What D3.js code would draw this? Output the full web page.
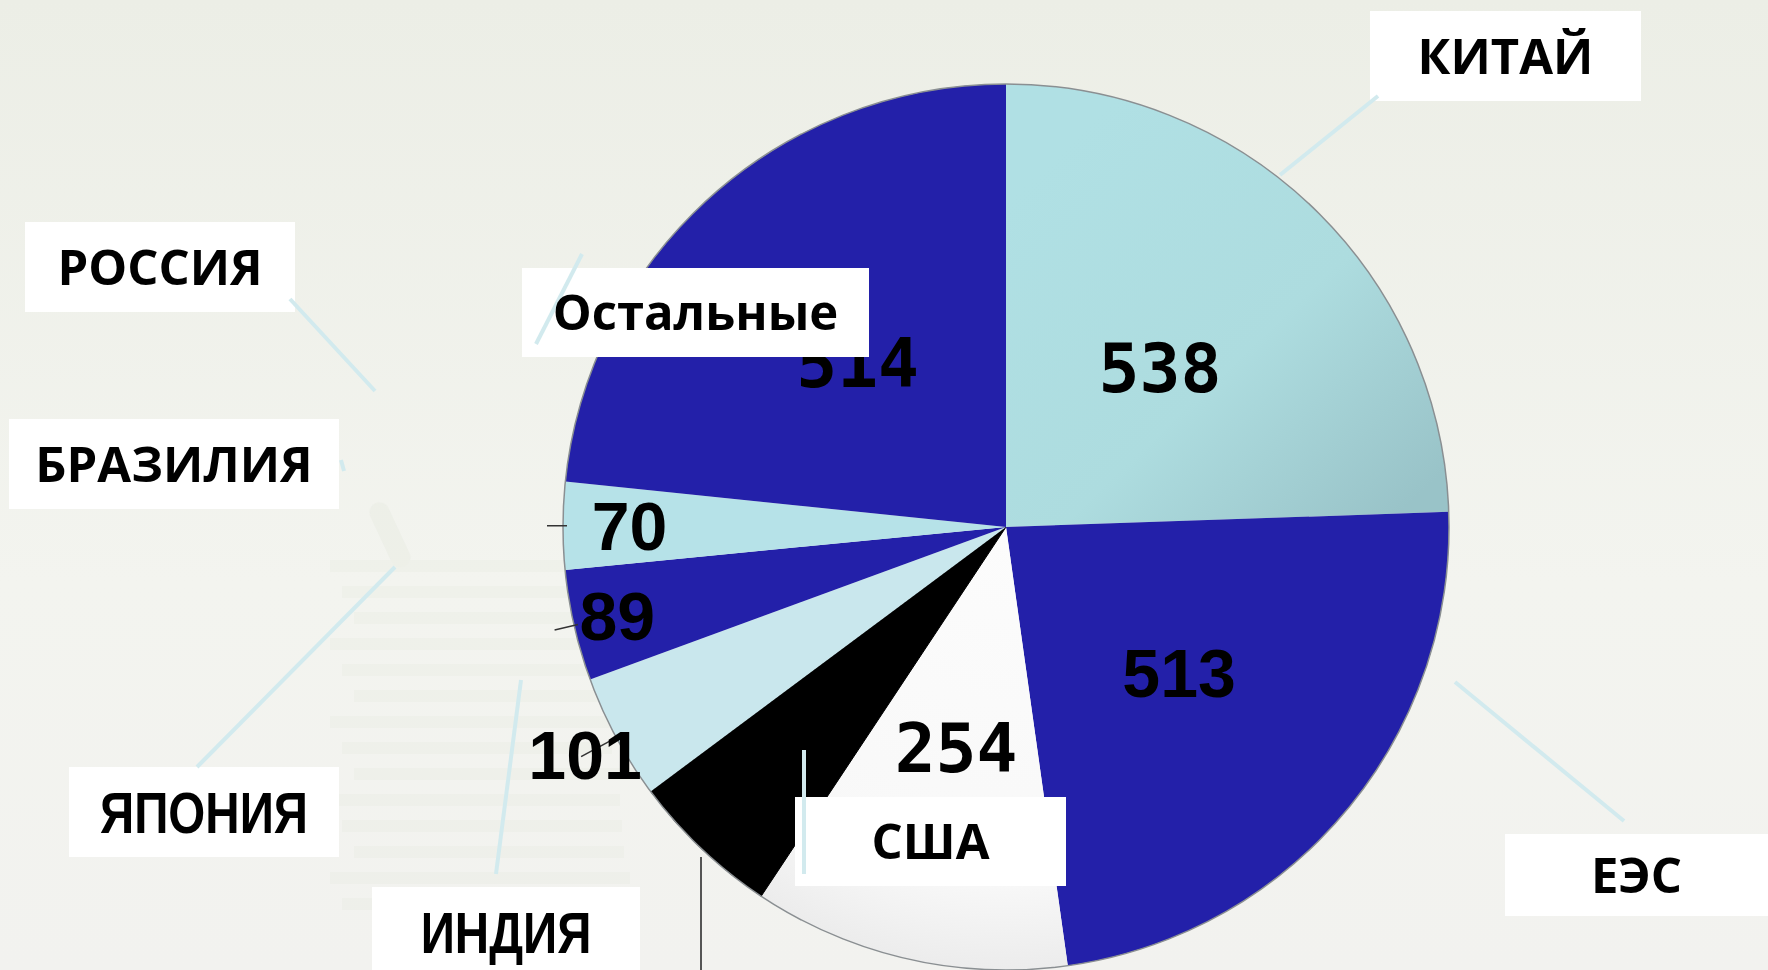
<!DOCTYPE html>
<html>
<head>
<meta charset="utf-8">
<script src="https://cdn.jsdelivr.net/npm/d3@7"></script>
<style>
  html, body { margin: 0; padding: 0; overflow: hidden; }
  svg { display: block; }
  .callout { font-family: 'Open Sans', sans-serif; font-weight: 700; fill: #000; }
  .narrow { font-family: 'Liberation Sans', Arial, sans-serif; font-weight: 700; }
</style>
</head>
<body>
<svg width="1768" height="970"></svg>
<script>
// slices clockwise from 12 o'clock
const countries = ['Китай', 'ЕЭС', 'США', 'Россия', 'Индия', 'Япония', 'Бразилия', 'Остальные'];
const values = [538, 513, 254, 121, 101, 89, 70, 514];
const valueLabels = ['538', '513', '254', '', '101', '89', '70', '514'];
const calloutTexts = ['КИТАЙ', 'ЕЭС', 'США', 'РОССИЯ', 'ИНДИЯ', 'ЯПОНИЯ', 'БРАЗИЛИЯ', 'Остальные'];

const svg = d3.select('svg');
const width = +svg.attr('width');
const height = +svg.attr('height');

const cx = 1006, cy = 527, radius = 443;

const colors = ['url(#gChina)', '#2320a9', 'url(#gWhite)', '#000000', '#c9e7ed', '#2320a9', '#b6e2e8', '#2320a9'];
// how far out the value label sits (fraction of radius) and its font
const labelPos = [0.5, 0.51, 0.51, 0.5, 1.08, 0.9, 0.85, 0.5];
const labelFont = ['mono', 'sans', 'mono', 'sans', 'sans', 'sans', 'sans', 'mono'];

const defs = svg.append('defs');
const bg = defs.append('linearGradient').attr('id', 'gBg')
  .attr('x1', 0).attr('y1', 0).attr('x2', 0).attr('y2', 1);
bg.append('stop').attr('offset', '0%').attr('stop-color', '#eceee6');
bg.append('stop').attr('offset', '60%').attr('stop-color', '#f3f4ef');
bg.append('stop').attr('offset', '100%').attr('stop-color', '#f2f2ef');

// gradients live in the pie group's coordinates (centre at 0,0)
const gc = defs.append('linearGradient').attr('id', 'gChina')
  .attr('gradientUnits', 'userSpaceOnUse')
  .attr('x1', 60).attr('y1', -380).attr('x2', 400).attr('y2', -20);
gc.append('stop').attr('offset', '0%').attr('stop-color', '#b0e0e4');
gc.append('stop').attr('offset', '55%').attr('stop-color', '#addcdf');
gc.append('stop').attr('offset', '100%').attr('stop-color', '#99c3c8');

const gw = defs.append('radialGradient').attr('id', 'gWhite')
  .attr('gradientUnits', 'userSpaceOnUse')
  .attr('cx', 0).attr('cy', 0).attr('r', radius);
gw.append('stop').attr('offset', '0%').attr('stop-color', '#fcfcfc');
gw.append('stop').attr('offset', '80%').attr('stop-color', '#f8f8f8');
gw.append('stop').attr('offset', '100%').attr('stop-color', '#ececec');

svg.append('rect').attr('width', width).attr('height', height).attr('fill', 'url(#gBg)');

// faint stack of papers in the background
const paper = svg.append('g').attr('opacity', 0.12);
d3.range(14).forEach(i => {
  paper.append('rect')
    .attr('x', 330 + (i % 3) * 12).attr('y', 560 + i * 26)
    .attr('width', 300 - (i % 4) * 10).attr('height', 12)
    .attr('fill', '#d6dccb');
});
paper.append('rect').attr('x', 380).attr('y', 500).attr('width', 20).attr('height', 70)
  .attr('rx', 10).attr('fill', '#c8d0bc').attr('transform', 'rotate(-25 390 535)');

const pie = d3.pie().sort(null).value(d => d)(values);
const arc = d3.arc().innerRadius(0).outerRadius(radius);

const g = svg.append('g').attr('transform', `translate(${cx},${cy})`);

g.selectAll('path.slice').data(pie)
  .enter().append('path')
  .attr('class', 'slice')
  .attr('d', arc)
  .attr('fill', (d, i) => colors[i])
  .attr('stroke', (d, i) => i === 3 ? '#000' : 'none');

g.append('circle').attr('r', radius).attr('fill', 'none')
  .attr('stroke', '#8a8f92').attr('stroke-width', 1.5);

// chart leader ticks for the small outer labels
const tick = (i, r0, r1) => {
  const a = (pie[i].startAngle + pie[i].endAngle) / 2;
  g.append('line')
    .attr('x1', Math.sin(a) * r0).attr('y1', -Math.cos(a) * r0)
    .attr('x2', Math.sin(a) * r1).attr('y2', -Math.cos(a) * r1)
    .attr('stroke', '#333').attr('stroke-width', 1.5);
};
tick(6, radius - 4, radius + 16);
tick(5, radius - 4, radius + 20);
tick(4, radius - 10, radius + 40);

// black slice leader going down out of frame
g.append('line')
  .attr('x1', -305).attr('y1', 330).attr('x2', -305).attr('y2', height)
  .attr('stroke', '#555').attr('stroke-width', 2);

g.selectAll('text.val').data(pie)
  .enter().append('text')
  .attr('class', 'val')
  .attr('transform', (d, i) => {
    const a = (d.startAngle + d.endAngle) / 2;
    const r = radius * labelPos[i];
    return `translate(${Math.sin(a) * r},${-Math.cos(a) * r})`;
  })
  .attr('text-anchor', 'middle')
  .attr('dy', '0.36em')
  .attr('font-family', (d, i) => labelFont[i] === 'mono' ? "'DejaVu Sans Mono', monospace" : "'Liberation Sans', Arial, sans-serif")
  .attr('font-weight', 'bold')
  .attr('font-size', 68)
  .attr('fill', '#000')
  .text((d, i) => valueLabels[i]);

// callout boxes: [box x, y, w, h, line x1, y1, x2, y2, narrow font]
const callouts = [
  [1370, 11, 271, 90, 1378, 96, 1280, 175, false],
  [1505, 834, 263, 82, 1624, 821, 1455, 682, false],
  [795, 797, 271, 89, 804, 750, 804, 874, false],
  [25, 222, 270, 90, 290, 299, 375, 391, false],
  [372, 887, 268, 90, 496, 874, 521, 680, true],
  [69, 767, 270, 90, 197, 767, 395, 567, true],
  [9, 419, 330, 90, 341, 460, 344, 471, false],
  [522, 268, 347, 89, 582, 254, 536, 344, false]
];

const co = svg.append('g');
callouts.forEach((c, i) => {
  co.append('rect')
    .attr('x', c[0]).attr('y', c[1]).attr('width', c[2]).attr('height', c[3])
    .attr('fill', '#ffffff');
});
callouts.forEach((c, i) => {
  co.append('line')
    .attr('x1', c[4]).attr('y1', c[5]).attr('x2', c[6]).attr('y2', c[7])
    .attr('stroke', '#d2eaee').attr('stroke-width', 4);
});
callouts.forEach((c, i) => {
  const tx = c[0] + c[2] / 2;
  const ty = c[1] + c[3] / 2;
  co.append('text')
    .attr('class', c[8] ? 'callout narrow' : 'callout')
    .attr('transform', c[8] ? `translate(${tx},${ty}) scale(0.82,1)` : `translate(${tx},${ty})`)
    .attr('dy', '0.36em')
    .attr('text-anchor', 'middle')
    .attr('font-size', c[8] ? 58 : 49)
    .text(calloutTexts[i]);
});
</script>
</body>
</html>
